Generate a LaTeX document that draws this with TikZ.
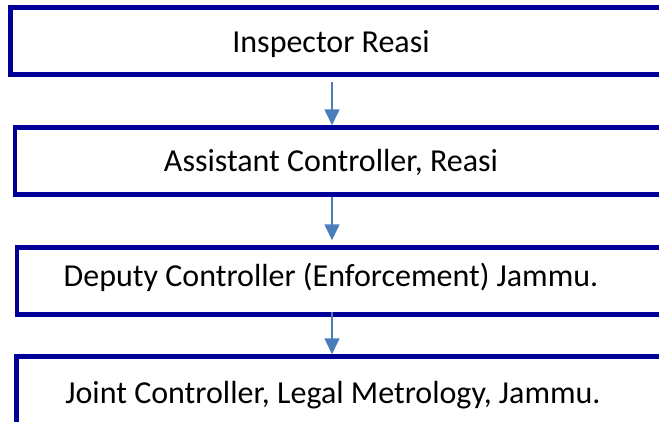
\documentclass[tikz,border=0pt]{standalone}
\usepackage{fontspec}
\setmainfont{Carlito}
\usetikzlibrary{calc, arrows.meta}

\definecolor{boxblue}{RGB}{0,0,153}
\definecolor{arrowblue}{RGB}{74,126,187}

\begin{document}
\begin{tikzpicture}
  [
    x = 1pt, y = -1pt,
    post/.style = {draw = boxblue, line width = 4.5pt, rectangle,
                   anchor = north west, inner sep = 0pt,
                   minimum width = 690pt, minimum height = 67pt},
    title/.style = {anchor = base, inner sep = 0pt,
                    font = \fontsize{32}{38}\selectfont},
    flow/.style = {draw = arrowblue, line width = 1.6pt,
                   -{Triangle[length = 16pt, width = 15pt]}}
  ]
  \useasboundingbox (0,0) rectangle (659,421);
  \clip (0,0) rectangle (659,421);
  \coordinate (axis) at (332,0);
  % the four posts, cut off on the right
  \node[post] (inspector) at (8.25,5.25)   {};
  \node[post] (assistant) at (12.5,125.25) {};
  \node[post] (deputy)    at (14.75,245.25) {};
  \node[post, minimum height = 75pt] (joint) at (14.25,354.25) {};
  % titles
  \node[title] (inspectorT) at (331,52.7)  {Inspector Reasi};
  \node[title] (assistantT) at (331,171.7) {Assistant Controller, Reasi};
  \node[title] (deputyT)    at (331,286)   {Deputy Controller (Enforcement) Jammu.};
  \node[title] (jointT)     at (333,403)   {Joint Controller, Legal Metrology, Jammu.};
  % reporting line
  \draw[flow] ($(inspector.south -| axis)+(0,5)$) -- (assistant.north -| axis);
  \draw[flow] (assistant.south -| axis) -- ($(deputy.north -| axis)+(0,-5)$);
  \draw[flow] ($(deputy.south -| axis)+(0,-5)$) -- (joint.north -| axis);
\end{tikzpicture}
\end{document}
